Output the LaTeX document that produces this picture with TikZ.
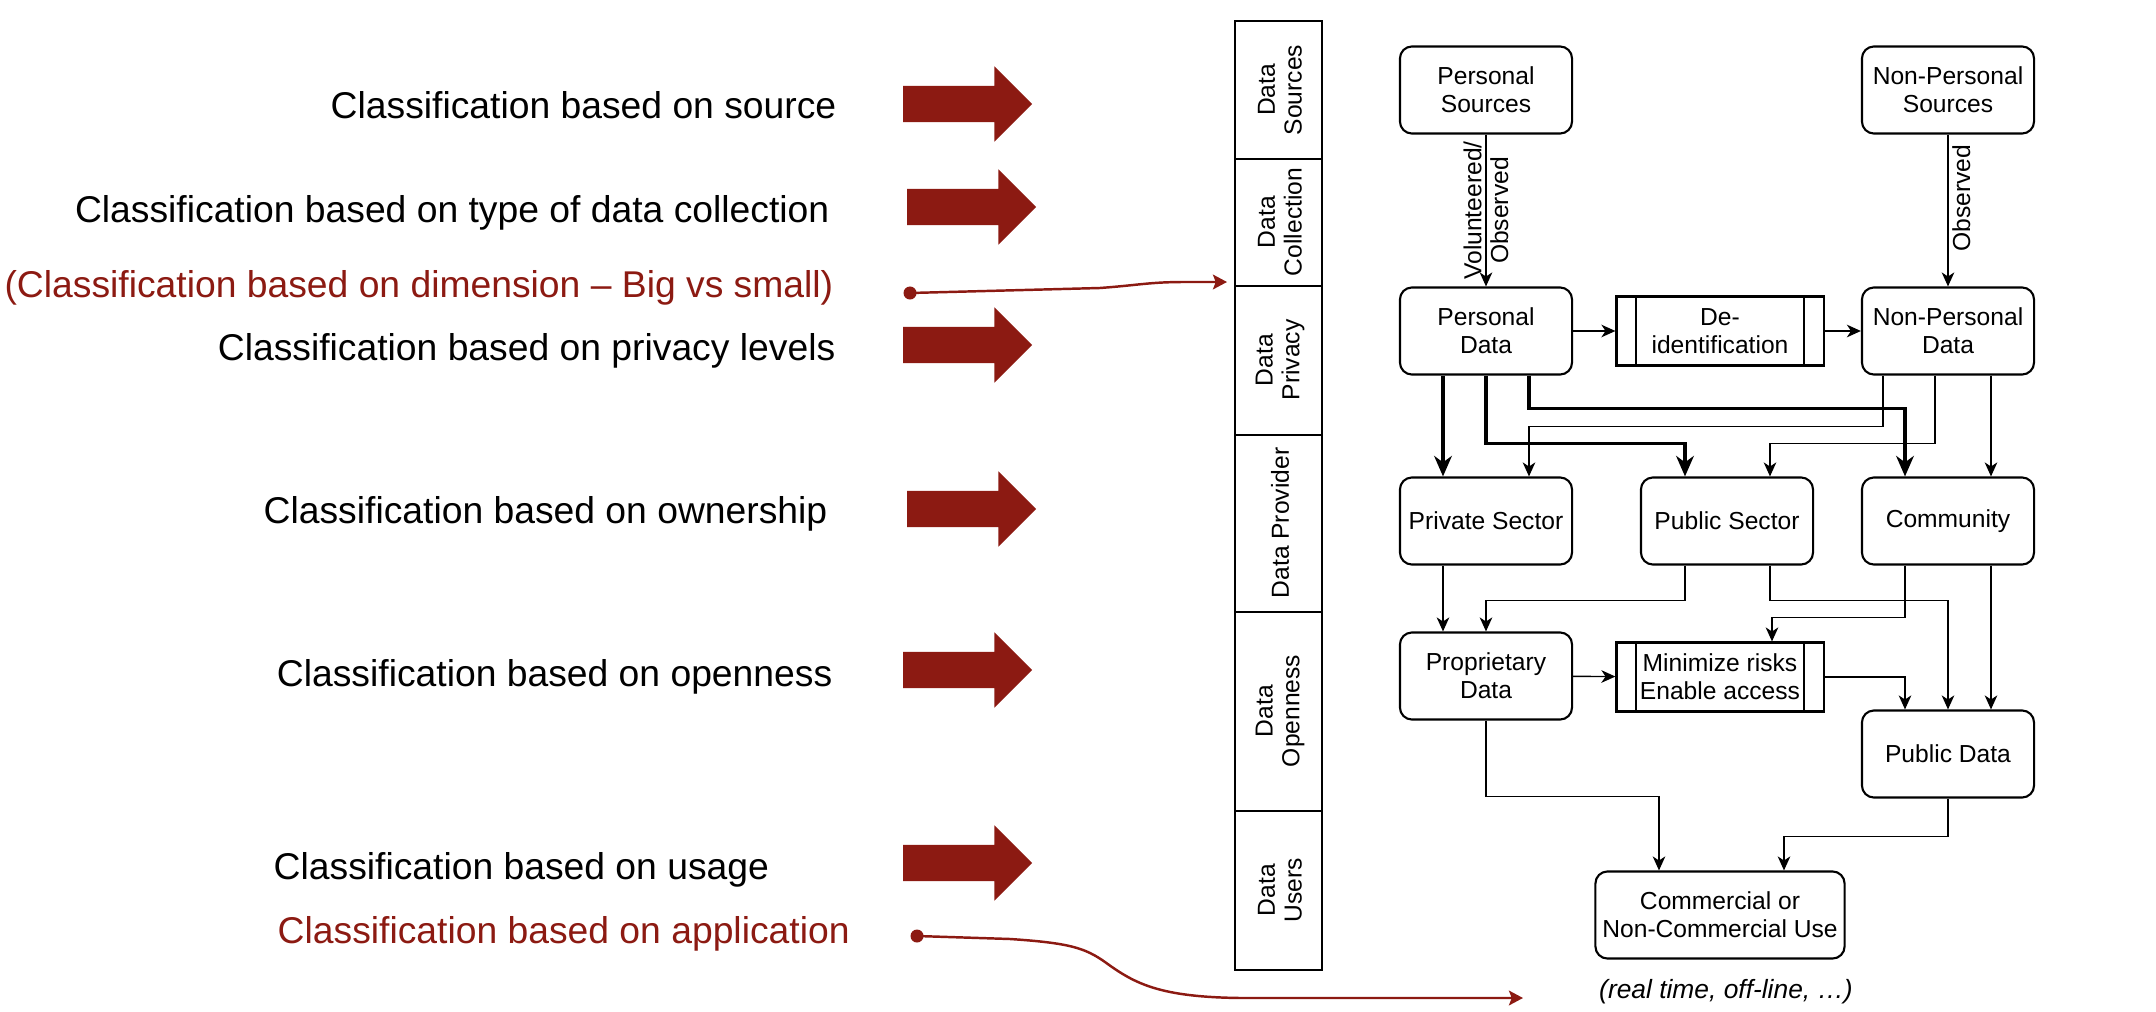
\documentclass[tikz,border=0pt]{standalone}
\usepackage{fontspec}
\setmainfont{Liberation Sans}
\usetikzlibrary{arrows.meta,shapes,positioning}
\definecolor{darkred}{RGB}{140,26,18}
\tikzset{ClassArrow/.style={single arrow, fill=darkred, draw=none, minimum width=0.74cm, minimum height=1.29cm,
                            inner xsep=0mm, inner ysep=0.175cm, single arrow head extend=0.195cm}}

\begin{document}
\begin{tikzpicture}[x=0.01cm, y=-0.01cm,
        class_text/.style = {inner sep=0pt, font=\fontsize{10.6}{12}\selectfont},
        red_text/.style = {class_text, text=darkred},
        lane/.style = {draw, line width=0.6pt},
        lane_label/.style = {rotate=90, align=center, font=\fontsize{7}{7.6}\selectfont},
        box/.style = {draw, line width=0.6pt, rounded corners=0.12cm, minimum width=1.72cm, minimum height=0.87cm,
                      align=center, inner sep=1pt, font=\fontsize{7}{8}\selectfont},
        proc_box/.style = {draw, line width=0.6pt, minimum width=2.07cm, minimum height=0.69cm,
                           align=center, inner sep=1pt, font=\fontsize{7}{8}\selectfont},
        thin_arrow/.style = {line width=0.4pt, -{Stealth[length=4pt, width=3.6pt, inset=1.2pt]}},
        thick_arrow/.style = {line width=1pt, -{Stealth[length=5.8pt, width=5pt, inset=1.8pt]}},
        edge_label/.style = {rotate=90, align=center, inner sep=1pt, font=\fontsize{7}{7.6}\selectfont},
        pointer/.style = {draw=darkred, line width=0.7pt, -{Stealth[length=4pt, width=4.2pt, inset=0.8pt]}},
        pointer_dot/.style = {circle, fill=darkred, inner sep=0pt, minimum size=0.13cm}]
    \useasboundingbox (0,0) rectangle (2156,1012);
    \begin{scope}
        %classification texts
        \node[class_text, anchor=base east] (srcText) at (837,118) {Classification based on source};
        \node[class_text, anchor=base east] (collText) at (830,222) {Classification based on type of data collection};
        \node[red_text, anchor=base east] (dimText) at (834,297) {(Classification based on dimension \textendash{} Big vs small)};
        \node[class_text, anchor=base east] (privText) at (836,360) {Classification based on privacy levels};
        \node[class_text, anchor=base east] (ownText) at (828,523) {Classification based on ownership};
        \node[class_text, anchor=base east] (openText) at (833,686) {Classification based on openness};
        \node[class_text, anchor=base west] (useText) at (273,879) {Classification based on usage};
        \node[red_text, anchor=base west] (appText) at (277,943) {Classification based on application};
        %big arrows
        \foreach \Name/\Xc/\Yc in {srcArrow/958.5/104, collArrow/962.5/207, privArrow/958.5/345,
                                   ownArrow/962.5/509, openArrow/958.5/670, useArrow/958.5/863}
        \node[ClassArrow] (\Name) at (\Xc,\Yc) {};
        %red pointers
        \node[pointer_dot] (dimDot) at (910,293) {};
        \coordinate (dimEnd) at (1227,282);
        \draw[pointer] (dimDot.center) -- (1100,288) .. controls (1140,285) and (1150,282) .. (1185,282) -- (dimEnd);
        \node[pointer_dot] (appDot) at (917,936) {};
        \coordinate (appEnd) at (1523,998);
        \draw[pointer] (appDot.center) -- (1010,939) .. controls (1070,943) and (1085,948) .. (1105,962)
            .. controls (1135,984) and (1160,997) .. (1240,998) -- (appEnd);
    \end{scope}
    \begin{scope}
        %lanes
        \draw[lane] (1235,21) rectangle (1322,970);
        \foreach \Ycoor in {159, 286, 435, 612, 811}
        \draw[lane] (1235,\Ycoor) -- (1322,\Ycoor);
        \node[lane_label] (laneSrc) at (1280,90) {Data\\Sources};
        \node[lane_label] (laneColl) at (1280,222) {Data\\Collection};
        \node[lane_label] (lanePriv) at (1280,360) {Data\\Privacy};
        \node[lane_label] (laneProv) at (1280,523) {Data Provider};
        \node[lane_label] (laneOpen) at (1280,711) {Data\\Openness};
        \node[lane_label] (laneUser) at (1280,890) {Data\\Users};
    \end{scope}
    \begin{scope}
        %boxes
        \node[box] (PSrc) at (1486,90) {Personal\\Sources};
        \node[box] (NPSrc) at (1948,90) {Non-Personal\\Sources};
        \node[box] (PData) at (1486,331) {Personal\\Data};
        \node[proc_box] (DeId) at (1720,331) {De-\\identification};
        \node[box] (NPData) at (1948,331) {Non-Personal\\Data};
        \node[box] (Priv) at (1486,521) {Private Sector};
        \node[box] (Pub) at (1727,521) {Public Sector};
        \node[box] (Comm) at (1948,521) {Community};
        \node[box] (Prop) at (1486,676) {Proprietary\\Data};
        \node[proc_box] (MinR) at (1720,677) {Minimize risks\\Enable access};
        \node[box] (PubD) at (1948,754) {Public Data};
        \node[box, minimum width=2.49cm] (Use) at (1720,915) {Commercial or\\Non-Commercial Use};
        \node[font=\fontsize{7.5}{9}\selectfont\itshape] (UseNote) at (1726,992) {(real time, off-line, \dots)};
        \foreach \Box in {DeId, MinR}
        {
            \draw[line width=0.6pt] ([shift={(21,0)}]\Box.north west) -- ([shift={(21,0)}]\Box.south west);
            \draw[line width=0.6pt] ([shift={(-21,0)}]\Box.north east) -- ([shift={(-21,0)}]\Box.south east);
        }
        %collection
        \draw[thin_arrow] (PSrc) -- (PData) node[edge_label, midway] {Volunteered/\\Observed};
        \draw[thin_arrow] (NPSrc) -- (NPData) node[edge_label, pos=0.42, anchor=north] {Observed};
        \draw[thin_arrow] (PData) -- (DeId);
        \draw[thin_arrow] (DeId) -- (NPData);
        %personal data to providers
        \draw[thick_arrow] ([shift={(-43,0)}]PData.south) -- ([shift={(-43,0)}]Priv.north);
        \draw[thick_arrow] (PData.south) -- ++(0,68) -| ([shift={(-42,0)}]Pub.north);
        \draw[thick_arrow] ([shift={(43,0)}]PData.south) -- ++(0,33) -| ([shift={(-43,0)}]Comm.north);
        %non-personal data to providers
        \draw[thin_arrow] ([shift={(-65,0)}]NPData.south) -- ++(0,51) -| ([shift={(43,0)}]Priv.north);
        \draw[thin_arrow] ([shift={(-13,0)}]NPData.south) -- ++(0,68) -| ([shift={(43,0)}]Pub.north);
        \draw[thin_arrow] ([shift={(43,0)}]NPData.south) -- ([shift={(43,0)}]Comm.north);
        %providers to openness
        \draw[thin_arrow] ([shift={(-43,0)}]Priv.south) -- ([shift={(-43,0)}]Prop.north);
        \draw[thin_arrow] ([shift={(-42,0)}]Pub.south) -- ++(0,35) -| (Prop.north);
        \draw[thin_arrow] ([shift={(43,0)}]Pub.south) -- ++(0,35) -| (PubD.north);
        \draw[thin_arrow] ([shift={(-43,0)}]Comm.south) -- ++(0,52) -| ([shift={(52,0)}]MinR.north);
        \draw[thin_arrow] ([shift={(43,0)}]Comm.south) -- ([shift={(43,0)}]PubD.north);
        \draw[thin_arrow] (Prop) -- (MinR);
        \draw[thin_arrow] (MinR.east) -| ([shift={(-43,0)}]PubD.north);
        %users
        \draw[thin_arrow] (Prop.south) -- ++(0,76) -| ([shift={(-61,0)}]Use.north);
        \draw[thin_arrow] (PubD.south) -- ++(0,38) -| ([shift={(64,0)}]Use.north);
    \end{scope}
\end{tikzpicture}
\end{document}
